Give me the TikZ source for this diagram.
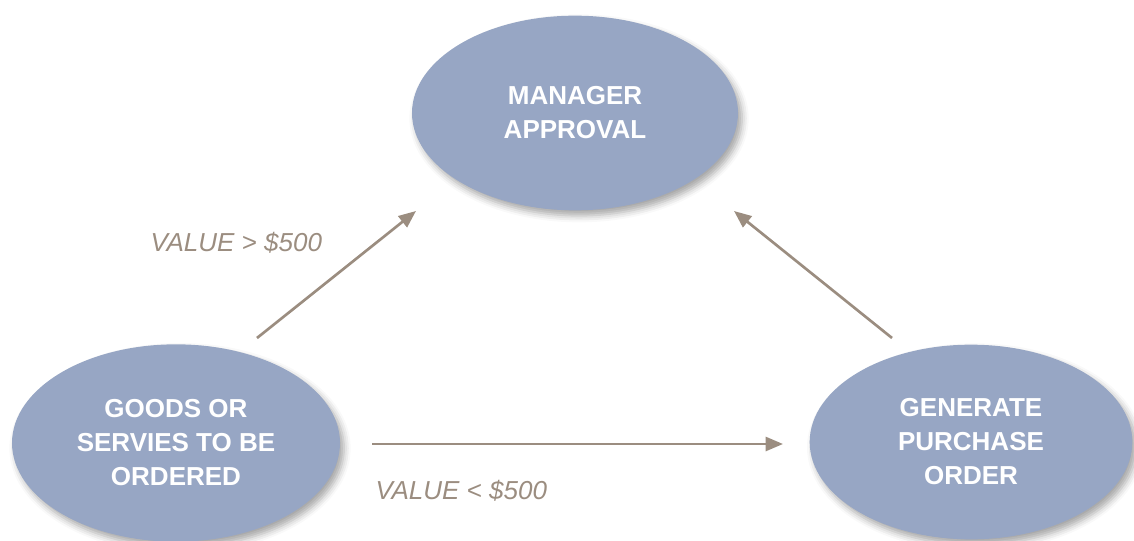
\documentclass[tikz,border=0pt]{standalone}
\usepackage{fontspec}
\setmainfont{Liberation Sans}
\usetikzlibrary{shapes.geometric,arrows.meta,shadows.blur}

\definecolor{bubblefill}{RGB}{151,166,196}
\definecolor{flowline}{RGB}{155,141,128}

\tikzset{
  bubble/.style={ellipse, fill=bubblefill, inner sep=0pt, align=center,
    text=white, font=\bfseries\fontsize{19.5}{25.5}\selectfont,
    blur shadow={shadow xshift=3pt, shadow yshift=-4pt, shadow blur radius=5pt, shadow opacity=35}},
  flow/.style={draw=flowline, line width=2pt, -{Triangle[length=13pt,width=10.5pt]}},
  cond/.style={text=flowline, font=\itshape\fontsize{19.5}{24}\selectfont}
}

\begin{document}
\begin{tikzpicture}[x=0.75pt,y=0.75pt,yscale=-1,xscale=1]
\useasboundingbox (0,0) rectangle (1134,541);

%Shape: Ellipse [top]
\node [bubble, minimum width=244.5pt, minimum height=146pt] (approval) at (575,113) {MANAGER\\APPROVAL};
%Shape: Ellipse [left]
\node [bubble, minimum width=246pt, minimum height=148pt] (goods) at (176,443) {GOODS OR\\SERVIES TO BE\\ORDERED};
%Shape: Ellipse [right]
\node [bubble, minimum width=242pt, minimum height=146pt] (order) at (971,442) {GENERATE\\PURCHASE\\ORDER};

% arrow ends
\coordinate (up-from) at (257,338);
\coordinate (up-to) at (416,211);
\coordinate (back-from) at (892,338);
\coordinate (back-to) at (734,211);
\coordinate (low-from) at (372,444);
\coordinate (low-to) at (783,444);

%Straight Lines
\draw [flow] (up-from) -- (up-to);
\draw [flow] (back-from) -- (back-to);
\draw [flow] (low-from) -- (low-to);

% Text Node
\node [cond, anchor=west] (over) at (146,243) {VALUE > \$500};
% Text Node
\node [cond, anchor=west] (under) at (371,491) {VALUE < \$500};
\end{tikzpicture}
\end{document}
